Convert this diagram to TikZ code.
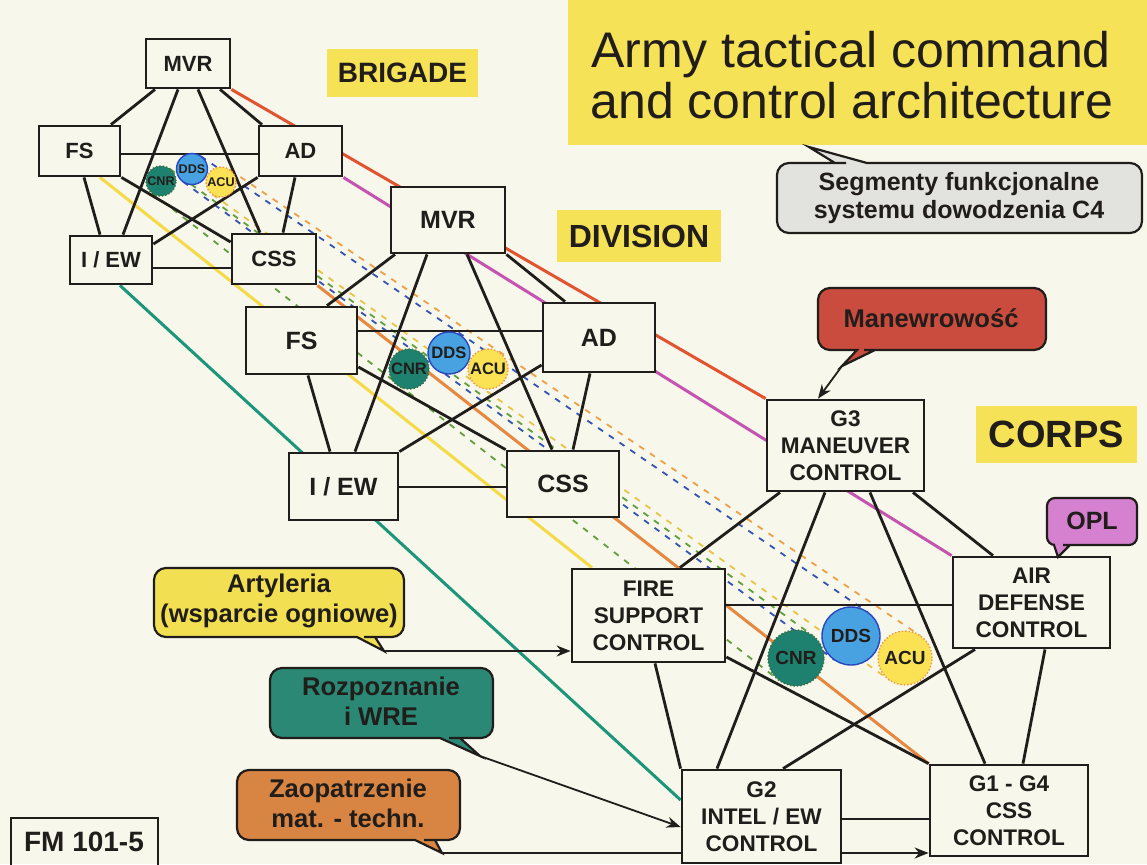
\documentclass[tikz,border=0pt]{standalone}
\usepackage{fontspec}
\setmainfont{Liberation Sans}
\usetikzlibrary{arrows.meta,calc,fit}
\pgfdeclarelayer{back}
\pgfdeclarelayer{lines}
\pgfsetlayers{back,lines,main}
\definecolor{bg}{RGB}{247,247,236}
\definecolor{ink}{RGB}{32,29,26}
\definecolor{ylab}{RGB}{246,226,86}
\definecolor{lred}{RGB}{226,84,48}
\definecolor{lmag}{RGB}{196,84,176}
\definecolor{lyel}{RGB}{244,218,70}
\definecolor{lteal}{RGB}{28,150,122}
\definecolor{lora}{RGB}{230,136,64}
\definecolor{dgreen}{RGB}{96,160,60}
\definecolor{dblue}{RGB}{52,84,176}
\definecolor{dora}{RGB}{236,160,72}
\definecolor{dyel}{RGB}{232,196,70}
\definecolor{cnrc}{RGB}{30,128,110}
\definecolor{cnrb}{RGB}{60,110,60}
\definecolor{ddsc}{RGB}{72,162,226}
\definecolor{ddsb}{RGB}{40,70,190}
\definecolor{acuc}{RGB}{250,226,84}
\definecolor{acub}{RGB}{236,150,70}
\definecolor{cyel}{RGB}{242,224,82}
\definecolor{cteal}{RGB}{42,136,116}
\definecolor{cora}{RGB}{216,132,66}
\definecolor{cred}{RGB}{202,76,62}
\definecolor{cgray}{RGB}{226,226,222}
\definecolor{cpink}{RGB}{214,128,208}
\begin{document}
\begin{tikzpicture}[x=0.5pt,y=-0.5pt,
  box/.style={draw=ink, fill=bg, line width=1.4pt, inner sep=0pt, align=center, text=ink},
  sz/.style 2 args={minimum width=#1pt, minimum height=#2pt},
  bfont/.style={font=\fontsize{11}{13}\selectfont\bfseries},
  dfont/.style={font=\fontsize{12.5}{14}\selectfont\bfseries},
  cfont/.style={font=\fontsize{11.3}{13.5}\selectfont\bfseries},
  link/.style={draw=ink, line width=1.4pt},
  colline/.style={line width=1.5pt},
  dline/.style={line width=0.9pt, dash pattern=on 3pt off 3.5pt},
  lab/.style={fill=ylab, inner sep=0pt, text=ink},
  circ/.style={circle, inner sep=0pt, line width=0.7pt, text=ink},
  cnr/.style={fill=cnrc, draw=cnrb, densely dotted},
  dds/.style={fill=ddsc, draw=ddsb},
  acu/.style={fill=acuc, draw=acub, densely dotted},
  call/.style={draw=ink, line width=1.1pt, rounded corners=6pt},
  caltext/.style={align=center, text=ink, font=\fontsize{12.8}{15}\selectfont\bfseries},
  arr/.style={draw=ink, line width=0.9pt, -{Stealth[length=7pt,width=5.5pt]}}
]
\useasboundingbox (0,0) rectangle (1147,864);
\begin{pgfonlayer}{back}
\fill[bg] (0,0) rectangle (1147,864);
\end{pgfonlayer}

% ---------- yellow labels ----------
\node[lab, fit={(568,-10) (1160,145)}] (titlebg) {};
\node[anchor=base, text=ink, font=\fontsize{25}{26}\selectfont] (title1) at (851,67) {Army tactical command};
\node[anchor=base, text=ink, font=\fontsize{25}{26}\selectfont] (title2) at (852,118) {and control architecture};
\node[lab, sz={75.5}{24}, font=\fontsize{14}{16}\selectfont\bfseries] (brig) at (402.5,73) {BRIGADE};
\node[lab, sz={82}{26}, font=\fontsize{16}{18}\selectfont\bfseries] (div) at (639,236) {DIVISION};
\node[lab, sz={80.5}{28.5}, font=\fontsize{19}{21}\selectfont\bfseries] (corps) at (1056.5,434.5) {CORPS};

% ---------- brigade ----------
\node[box, bfont, sz={42}{24.5}] (bMVR) at (188,63.5) {MVR};
\node[box, bfont, sz={40.5}{25}] (bFS) at (79.5,151) {FS};
\node[box, bfont, sz={41.5}{25}] (bAD) at (300.5,151) {AD};
\node[box, bfont, sz={41}{24}] (bIEW) at (111,260) {I / EW};
\node[box, bfont, sz={42}{25}] (bCSS) at (274,259) {CSS};
\node[circ, cnr, minimum size=15pt, font=\fontsize{6.3}{7}\selectfont\bfseries] (bCNR) at (161,181) {CNR};
\node[circ, dds, minimum size=15.5pt, font=\fontsize{6.3}{7}\selectfont\bfseries] (bDDS) at (192,169) {DDS};
\node[circ, acu, minimum size=15pt, font=\fontsize{6.3}{7}\selectfont\bfseries] (bACU) at (221,182) {ACU};

% ---------- division ----------
\node[box, dfont, sz={57}{33}] (dMVR) at (448,220) {MVR};
\node[box, dfont, sz={55.5}{33.5}] (dFS) at (301.5,340.5) {FS};
\node[box, dfont, sz={56}{34.5}] (dAD) at (599,337.5) {AD};
\node[box, dfont, sz={54.5}{33.5}] (dIEW) at (343.5,486.5) {I / EW};
\node[box, dfont, sz={56}{33}] (dCSS) at (563,484) {CSS};
\node[circ, cnr, minimum size=20pt, font=\fontsize{8.3}{9}\selectfont\bfseries] (dCNR) at (409,369) {CNR};
\node[circ, dds, minimum size=21pt, font=\fontsize{8.3}{9}\selectfont\bfseries] (dDDS) at (449,353) {DDS};
\node[circ, acu, minimum size=20pt, font=\fontsize{8.3}{9}\selectfont\bfseries] (dACU) at (488,369) {ACU};

% ---------- corps ----------
\node[box, cfont, sz={78.5}{45.5}] (cG3) at (845.5,445.5) {G3\\MANEUVER\\CONTROL};
\node[box, cfont, sz={76.5}{46.5}] (cFSC) at (648.5,615.5) {FIRE\\SUPPORT\\CONTROL};
\node[box, cfont, sz={78.5}{45.5}] (cADC) at (1031.5,602.5) {AIR\\DEFENSE\\CONTROL};
\node[box, cfont, sz={79.5}{46.5}] (cG2) at (761.5,816.5) {G2\\INTEL / EW\\CONTROL};
\node[box, cfont, sz={79}{45.5}] (cG14) at (1009,810.5) {G1 - G4\\CSS\\CONTROL};
\node[circ, cnr, minimum size=28pt, font=\fontsize{9.5}{11}\selectfont\bfseries] (cCNR) at (796,658) {CNR};
\node[circ, dds, minimum size=29pt, font=\fontsize{9.5}{11}\selectfont\bfseries] (cDDS) at (851,636) {DDS};
\node[circ, acu, minimum size=27pt, font=\fontsize{9.5}{11}\selectfont\bfseries] (cACU) at (905,658) {ACU};

% ---------- callout tips ----------
\coordinate (artTip) at (384,651);
\coordinate (rozTip) at (480,756);
\coordinate (zaoTip) at (442,853);
\coordinate (manTip) at (842,366);
\coordinate (segTip) at (809,147);
\coordinate (oplTip) at (1058,557);

\begin{pgfonlayer}{lines}
% colored solid lines
\draw[colline, lred] (bMVR.south east) -- (cG3.north west);
\draw[colline, lmag] (bAD.south east) -- (cADC.north west);
\draw[colline, lyel] (100,0 |- bFS.south) -- (592,0 |- cFSC.north);
\draw[colline, lteal] (120,0 |- bIEW.south) -- (cG2.west |- 0,800);
\draw[colline, lora] (bCSS.south east) -- (cG14.north west);
% dashed lines between circle groups
\draw[dline, dgreen] ($(bCNR.center)+(9,-12)$) -- ($(cCNR.center)+(16.8,-22.4)$);
\draw[dline, dgreen] ($(bCNR.center)+(-9,12)$) -- ($(cCNR.center)+(-16.8,22.4)$);
\draw[dline, dblue] ($(bDDS.center)+(9,-12.6)$) -- ($(cDDS.center)+(16.8,-23.7)$);
\draw[dline, dblue] ($(bDDS.center)+(-9,12.6)$) -- ($(cDDS.center)+(-16.8,23.7)$);
\draw[dline, dora] ($(bACU.center)+(8.6,-12.3)$) -- ($(cACU.center)+(15.4,-22.2)$);
\draw[dline, dyel] ($(bACU.center)+(-8.6,12.3)$) -- ($(cACU.center)+(-15.4,22.2)$);
% brigade links
\draw[link] (155,0 |- bMVR.south) -- (111,0 |- bFS.north);
\draw[link] (220,0 |- bMVR.south) -- (262,0 |- bAD.north);
\draw[link] (178,0 |- bMVR.south) -- (123,0 |- bIEW.north);
\draw[link] (198,0 |- bMVR.south) -- (260,0 |- bCSS.north);
\draw[link] (bFS.east |- 0,154) -- (bAD.west |- 0,154);
\draw[link] (84,0 |- bFS.south) -- (100,0 |- bIEW.north);
\draw[link] (bFS.south east) -- (bCSS.west |- 0,242);
\draw[link] (bAD.south west) -- (bIEW.east |- 0,244);
\draw[link] (295,0 |- bAD.south) -- (283,0 |- bCSS.north);
\draw[link] (bIEW.east |- 0,268) -- (bCSS.west |- 0,268);
% division links
\draw[link] (395,0 |- dMVR.south) -- (327,0 |- dFS.north);
\draw[link] (427,0 |- dMVR.south) -- (355,0 |- dIEW.north);
\draw[link] (467,0 |- dMVR.south) -- (552,0 |- dCSS.north);
\draw[link] (dMVR.south east) -- (565,0 |- dAD.north);
\draw[link] (dFS.east |- 0,331) -- (dAD.west |- 0,331);
\draw[link] (308,0 |- dFS.south) -- (330,0 |- dIEW.north);
\draw[link] (dFS.east |- 0,367) -- (dCSS.north west);
\draw[link] (dAD.west |- 0,365) -- (dIEW.north east);
\draw[link] (590,0 |- dAD.south) -- (573,0 |- dCSS.north);
\draw[link] (dIEW.east |- 0,487) -- (dCSS.west |- 0,487);
% corps links
\draw[link] (780,0 |- cG3.south) -- (680,0 |- cFSC.north);
\draw[link] (825,0 |- cG3.south) -- (717,0 |- cG2.north);
\draw[link] (870,0 |- cG3.south) -- (985,0 |- cG14.north);
\draw[link] (913,0 |- cG3.south) -- (993,0 |- cADC.north);
\draw[link] (cFSC.east |- 0,605) -- (cADC.west |- 0,605);
\draw[link] (655,0 |- cFSC.south) -- (cG2.north west);
\draw[link] (cFSC.east |- 0,657) -- (cG14.north west);
\draw[link] (975,0 |- cADC.south) -- (783,0 |- cG2.north);
\draw[link] (1045,0 |- cADC.south) -- (1023,0 |- cG14.north);
\draw[link] (cG2.east |- 0,819) -- (cG14.west |- 0,819);
% callout arrows
\draw[arr] (artTip) -- (cFSC.west |- artTip);
\draw[arr] (rozTip) -- (cG2.west |- 0,827);
\draw[arr] (zaoTip) -- (cG14.west |- zaoTip);
\draw[arr] (manTip) -- (818,0 |- cG3.north);
\end{pgfonlayer}

% ---------- callouts ----------
\draw[call, fill=cyel] (279,568) -- (404,568) -- (404,637) -- (376,637) [sharp corners] -- (375,637) -- (artTip) -- (357,637) -- (356,637) [rounded corners=6pt] -- (154,637) -- (154,568) -- cycle;
\node[caltext] (artT) at (279,601) {Artyleria\\(wsparcie ogniowe)};

\draw[call, fill=cteal] (381,668) -- (493,668) -- (493,738) -- (461,738) [sharp corners] -- (460,738) -- (rozTip) -- (440,738) -- (439,738) [rounded corners=6pt] -- (270,738) -- (270,668) -- cycle;
\node[caltext] (rozT) at (381,701) {Rozpoznanie\\i WRE};

\draw[call, fill=cora] (348,770) -- (460,770) -- (460,840) -- (436,840) [sharp corners] -- (435,840) -- (zaoTip) -- (415,840) -- (414,840) [rounded corners=6pt] -- (237,840) -- (237,770) -- cycle;
\node[caltext] (zaoT) at (348,803) {Zaopatrzenie\\mat. - techn.};

\draw[call, fill=cred] (932,288) -- (1046,288) -- (1046,350) -- (876,350) [sharp corners] -- (875,350) -- (manTip) -- (857,350) -- (856,350) [rounded corners=6pt] -- (818,350) -- (818,288) -- cycle;
\node[caltext] (manT) at (931,318) {Manewrowość};

\draw[call, fill=cgray] (960,233) -- (777,233) -- (777,163) -- (834,163) [sharp corners] -- (835,163) -- (segTip) -- (867,163) -- (868,163) [rounded corners=6pt] -- (1142,163) -- (1142,233) -- cycle;
\node[caltext, font=\fontsize{12.5}{14}\selectfont\bfseries] (segT) at (959,198) {Segmenty funkcjonalne\\systemu dowodzenia C4};

\draw[call, rounded corners=4pt, fill=cpink] (1092,498) -- (1137,498) -- (1137,545) -- (1071,545) [sharp corners] -- (1070,545) -- (oplTip) -- (1054,545) -- (1053,545) [rounded corners=4pt] -- (1047,545) -- (1047,498) -- cycle;
\node[caltext, font=\fontsize{12.5}{14}\selectfont\bfseries] (oplT) at (1092,521) {OPL};

% ---------- FM box ----------
\node[draw=ink, line width=1pt, inner sep=0pt, fit={(11,818) (158,876)}] (fmbox) {};
\node[text=ink, font=\fontsize{14}{16}\selectfont\bfseries] (fm) at (84,842) {FM 101-5};
\end{tikzpicture}
\end{document}
